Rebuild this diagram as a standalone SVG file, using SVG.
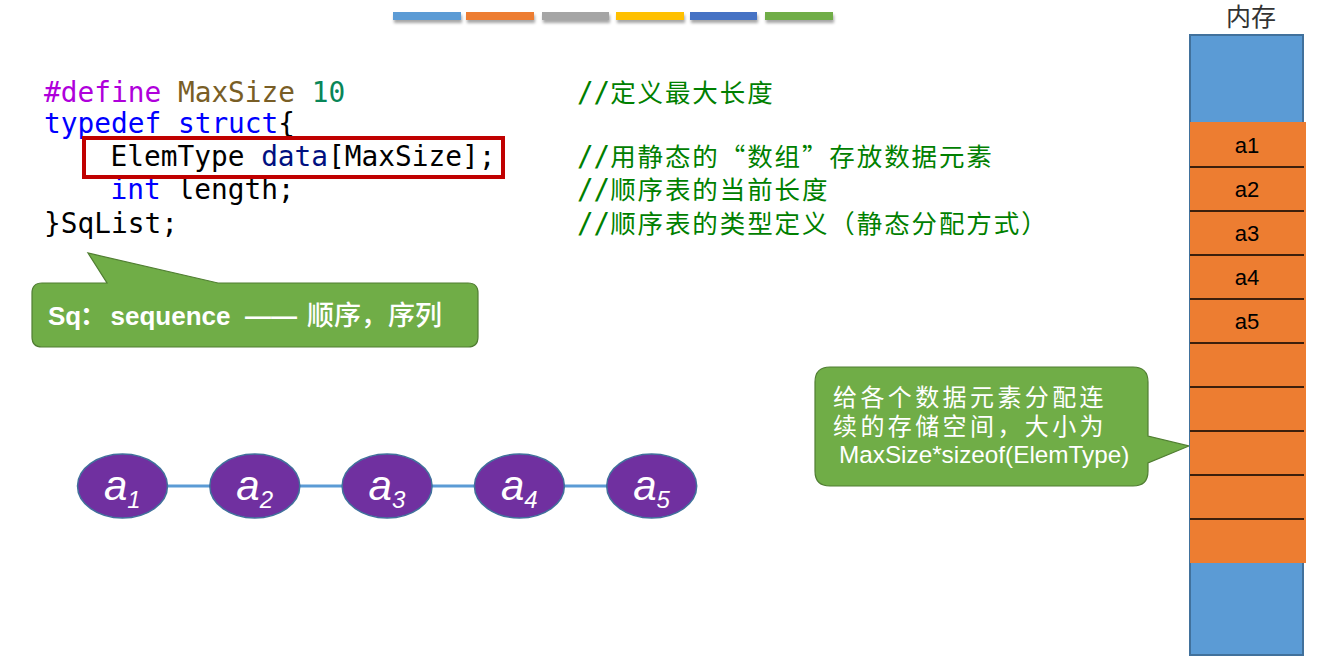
<svg xmlns="http://www.w3.org/2000/svg" width="1341" height="672" viewBox="0 0 1341 672">
<style>
.code{font-family:"DejaVu Sans Mono","Liberation Mono",monospace;font-size:27.8px;fill:#000}
.kw{fill:#0000FF}
.pp{fill:#AF00DB}
.mac{fill:#795E26}
.num{fill:#098658}
.var{fill:#001080}
.cmt{font-family:"DejaVu Sans Mono","Noto Sans CJK SC",monospace;font-size:27.5px;fill:#008000}
.cjk{font-family:"Noto Sans CJK SC",sans-serif;font-size:25.5px;letter-spacing:1.9px}
.bar{stroke:none}
.callout{fill:#70AD47;stroke:#507E32;stroke-width:1.2}
.node{fill:#7030A0;stroke:#41719C;stroke-width:1.5}
.ntext{font-family:"Liberation Sans","Open Sans",sans-serif;font-style:italic;font-size:42px;fill:#fff}
.edge{stroke:#5B9BD5;stroke-width:3}
.cell{stroke:#000;stroke-width:1.6}
.mlabel{font-family:"Liberation Sans",sans-serif;font-size:22px;fill:#000;text-anchor:middle}
.ctext{font-family:"Noto Sans CJK SC",sans-serif;font-size:24px;letter-spacing:3.4px;fill:#fff}
</style>
<defs>
<filter id="sh" x="-10%" y="-50%" width="120%" height="250%">
<feDropShadow dx="1" dy="3" stdDeviation="1.5" flood-color="#000" flood-opacity="0.35"/>
</filter>
</defs>

<g id="topbars" filter="url(#sh)">
<rect class="bar" x="393" y="12" width="68" height="8" fill="#5B9BD5"/>
<rect class="bar" x="466" y="12" width="68" height="8" fill="#ED7D31"/>
<rect class="bar" x="542" y="12" width="67" height="8" fill="#A5A5A5"/>
<rect class="bar" x="616" y="12" width="68" height="8" fill="#FFC000"/>
<rect class="bar" x="690" y="12" width="67" height="8" fill="#4472C4"/>
<rect class="bar" x="765" y="12" width="68" height="8" fill="#70AD47"/>
</g>

<g id="code">
<text class="code" x="44" y="102" xml:space="preserve"><tspan class="pp">#define</tspan> <tspan class="mac">MaxSize</tspan> <tspan class="num">10</tspan></text>
<text class="code" x="44" y="133" xml:space="preserve"><tspan class="kw">typedef</tspan> <tspan class="kw">struct</tspan>{</text>
<text class="code" x="110.5" y="166" xml:space="preserve">ElemType <tspan class="var">data</tspan>[MaxSize];</text>
<text class="code" x="110.5" y="199" xml:space="preserve"><tspan class="kw">int</tspan> length;</text>
<text class="code" x="44" y="233" xml:space="preserve">}SqList;</text>
</g>

<g id="highlight">
<rect x="84" y="138" width="419" height="39" fill="none" stroke="#C00000" stroke-width="4"/>
</g>

<g id="comments">
<text class="cmt" x="577" y="101.5">//<tspan class="cjk">定义最大长度</tspan></text>
<text class="cmt" x="577" y="165.5">//<tspan class="cjk">用静态的“数组”存放数据元素</tspan></text>
<text class="cmt" x="577" y="199">//<tspan class="cjk">顺序表的当前长度</tspan></text>
<text class="cmt" x="577" y="233">//<tspan class="cjk">顺序表的类型定义（静态分配方式）</tspan></text>
</g>

<g id="callout-sq">
<path class="callout" d="M42,283 L107,283 L88,253 L218,283 L468,283 Q478,283 478,293 L478,337 Q478,347 468,347 L42,347 Q32,347 32,337 L32,293 Q32,283 42,283 Z"/>
<text y="325" font-family="Liberation Sans,Noto Sans CJK SC,sans-serif" font-size="26" font-weight="bold" fill="#fff"><tspan x="48">Sq</tspan><tspan x="80" font-family="Noto Sans CJK SC,sans-serif">：</tspan><tspan x="110.5">sequence</tspan><tspan x="245">——</tspan><tspan x="307" font-family="Noto Sans CJK SC,sans-serif" font-weight="500" font-size="27">顺序，序列</tspan></text>
</g>

<g id="connectors">
<line class="edge" x1="167" y1="486" x2="210" y2="486"/>
<line class="edge" x1="299" y1="486" x2="342" y2="486"/>
<line class="edge" x1="432" y1="486" x2="475" y2="486"/>
<line class="edge" x1="564" y1="486" x2="607" y2="486"/>
</g>

<g id="n1"><ellipse class="node" cx="122.5" cy="486" rx="45" ry="32"/><text class="ntext" x="104" y="500">a<tspan font-size="24" dy="8">1</tspan></text></g>
<g id="n2"><ellipse class="node" cx="254.8" cy="486" rx="45" ry="32"/><text class="ntext" x="236.3" y="500">a<tspan font-size="24" dy="8">2</tspan></text></g>
<g id="n3"><ellipse class="node" cx="387.1" cy="486" rx="45" ry="32"/><text class="ntext" x="368.6" y="500">a<tspan font-size="24" dy="8">3</tspan></text></g>
<g id="n4"><ellipse class="node" cx="519.4" cy="486" rx="45" ry="32"/><text class="ntext" x="500.9" y="500">a<tspan font-size="24" dy="8">4</tspan></text></g>
<g id="n5"><ellipse class="node" cx="651.7" cy="486" rx="45" ry="32"/><text class="ntext" x="633.2" y="500">a<tspan font-size="24" dy="8">5</tspan></text></g>

<g id="callout-mem">
<path class="callout" d="M830,367 L1133,367 Q1148,367 1148,382 L1148,436 L1189,446 L1148,463 L1148,471 Q1148,486 1133,486 L830,486 Q815,486 815,471 L815,382 Q815,367 830,367 Z"/>
<text class="ctext" x="833" y="406">给各个数据元素分配连</text>
<text class="ctext" x="833" y="435">续的存储空间，大小为</text>
<text x="839" y="463" font-family="Liberation Sans,sans-serif" font-size="24.3" fill="#fff">MaxSize*sizeof(ElemType)</text>
</g>

<g id="memory">
<text x="1251" y="26" font-family="Noto Sans CJK SC,sans-serif" font-size="25" fill="#333" text-anchor="middle">内存</text>
<rect x="1190" y="35" width="113" height="620" fill="#5B9BD5" stroke="#41719C" stroke-width="2"/>
<rect x="1190" y="122" width="116" height="441" fill="#ED7D31"/>
<line class="cell" x1="1190" y1="167" x2="1304" y2="167"/>
<line class="cell" x1="1190" y1="211" x2="1304" y2="211"/>
<line class="cell" x1="1190" y1="255" x2="1304" y2="255"/>
<line class="cell" x1="1190" y1="299" x2="1304" y2="299"/>
<line class="cell" x1="1190" y1="343" x2="1304" y2="343"/>
<line class="cell" x1="1190" y1="387" x2="1304" y2="387"/>
<line class="cell" x1="1190" y1="431" x2="1304" y2="431"/>
<line class="cell" x1="1190" y1="475" x2="1304" y2="475"/>
<line class="cell" x1="1190" y1="519" x2="1304" y2="519"/>
<text class="mlabel" x="1247" y="153">a1</text>
<text class="mlabel" x="1247" y="197">a2</text>
<text class="mlabel" x="1247" y="241">a3</text>
<text class="mlabel" x="1247" y="285">a4</text>
<text class="mlabel" x="1247" y="329">a5</text>
</g>
</svg>
